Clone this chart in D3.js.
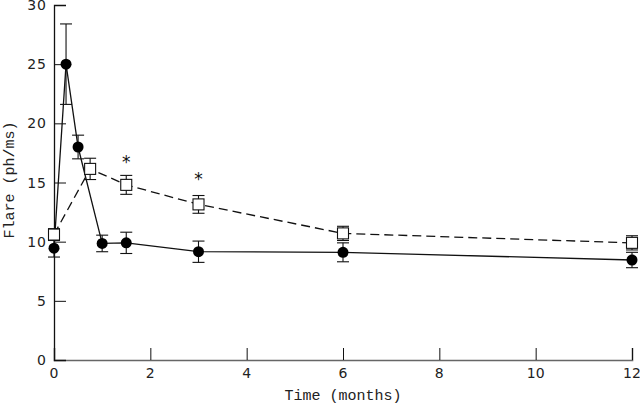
<!DOCTYPE html>
<html>
<head>
<meta charset="utf-8">
<script src="https://cdnjs.cloudflare.com/ajax/libs/d3/7.8.5/d3.min.js"></script>
<style>
  body { margin: 0; background: #fff; }
  svg { display: block; }
</style>
</head>
<body>
<script>
(function () {
    "use strict";

    // data
    var circleTimes = [0, 0.25, 0.5, 1, 1.5, 3, 6, 12];
    var circleMeans = [9.45, 25, 18, 9.85, 9.9, 9.15, 9.1, 8.45];
    var circleErrs  = [0.75, 3.4, 1.0, 0.7, 0.9, 0.9, 0.8, 0.65];

    var squareTimes = [0, 0.75, 1.5, 3, 6, 12];
    var squareMeans = [10.6, 16.15, 14.8, 13.15, 10.7, 9.9];
    var squareErrs  = [0.5, 0.9, 0.8, 0.75, 0.6, 0.6];

    var starTimes = [1.5, 3];
    var starValues = [17.1, 15.6];

    var xTicks = [0, 2, 4, 6, 8, 10, 12];
    var yTicks = [0, 5, 10, 15, 20, 25, 30];

    var width = 640, height = 406;
    var margin = {top: 5, right: 8, bottom: 46, left: 54};

    var svg = d3.select("body").append("svg")
            .attr("width", width)
            .attr("height", height);

    var x = d3.scaleLinear().domain([0, 12]).range([margin.left, width - margin.right]);
    var y = d3.scaleLinear().domain([0, 30]).range([height - margin.bottom, margin.top]);

    var tickFont = "'DejaVu Sans', Verdana, sans-serif";
    var labelFont = "'Liberation Mono', 'DejaVu Sans Mono', monospace";

    // axes: ticks point inward
    var xAxis = svg.append("g")
            .attr("transform", "translate(0," + y(0) + ")")
            .call(d3.axisTop(x).tickValues(xTicks).tickSize(12).tickFormat(""));
    xAxis.select(".domain").attr("stroke", "#666").attr("stroke-width", 1.6);
    xAxis.selectAll(".tick line").attr("stroke", "#111");

    var yAxis = svg.append("g")
            .attr("transform", "translate(" + x(0) + ",0)")
            .call(d3.axisRight(y).tickValues(yTicks).tickSize(12).tickFormat(""));
    yAxis.select(".domain").attr("stroke", "#111").attr("stroke-width", 1.3);
    yAxis.selectAll(".tick line").attr("stroke", "#111");

    // tick labels
    svg.selectAll(".xlab").data(xTicks).enter().append("text")
            .attr("x", function (d) { return x(d); })
            .attr("y", y(0) + 18)
            .attr("text-anchor", "middle")
            .attr("font-family", tickFont)
            .attr("font-size", 14)
            .attr("fill", "#222")
            .text(function (d) { return d; });

    svg.selectAll(".ylab").data(yTicks).enter().append("text")
            .attr("x", x(0) - 7)
            .attr("y", function (d) { return y(d) + 5; })
            .attr("text-anchor", "end")
            .attr("font-family", tickFont)
            .attr("font-size", 14)
            .attr("letter-spacing", 1)
            .attr("fill", "#222")
            .text(function (d) { return d; });

    // axis titles
    svg.append("text")
            .attr("x", 343)
            .attr("y", 400)
            .attr("text-anchor", "middle")
            .attr("font-family", labelFont)
            .attr("font-size", 15)
            .attr("fill", "#222")
            .text("Time (months)");

    svg.append("text")
            .attr("transform", "translate(14,180) rotate(-90)")
            .attr("text-anchor", "middle")
            .attr("font-family", labelFont)
            .attr("font-size", 15)
            .attr("fill", "#222")
            .text("Flare (ph/ms)");

    var circles = circleTimes.map(function (t, i) {
        return {t: t, m: circleMeans[i], e: circleErrs[i]};
    });
    var squares = squareTimes.map(function (t, i) {
        return {t: t, m: squareMeans[i], e: squareErrs[i]};
    });

    var line = d3.line()
            .x(function (d) { return x(d.t); })
            .y(function (d) { return y(d.m); });

    svg.append("path")
            .datum(squares)
            .attr("d", line)
            .attr("fill", "none")
            .attr("stroke", "#111")
            .attr("stroke-width", 1.3)
            .attr("stroke-dasharray", "9,5");

    svg.append("path")
            .datum(circles)
            .attr("d", line)
            .attr("fill", "none")
            .attr("stroke", "#111")
            .attr("stroke-width", 1.3);

    // error bars
    function errorBars(data) {
        var g = svg.append("g").attr("stroke", "#111").attr("stroke-width", 1.1);
        data.forEach(function (d) {
            var cx = x(d.t), cap = 6;
            g.append("line").attr("x1", cx).attr("x2", cx)
                    .attr("y1", y(d.m - d.e)).attr("y2", y(d.m + d.e));
            [d.m - d.e, d.m + d.e].forEach(function (v) {
                g.append("line").attr("x1", cx - cap).attr("x2", cx + cap)
                        .attr("y1", y(v)).attr("y2", y(v));
            });
        });
    }
    errorBars(squares);
    errorBars(circles);

    svg.selectAll(".sq").data(squares).enter().append("rect")
            .attr("x", function (d) { return x(d.t) - 5.5; })
            .attr("y", function (d) { return y(d.m) - 5.5; })
            .attr("width", 11)
            .attr("height", 11)
            .attr("fill", "#fff")
            .attr("stroke", "#111")
            .attr("stroke-width", 1.1);

    svg.selectAll(".ci").data(circles).enter().append("circle")
            .attr("cx", function (d) { return x(d.t); })
            .attr("cy", function (d) { return y(d.m); })
            .attr("r", 5.5)
            .attr("fill", "#000");

    // significance markers
    svg.selectAll(".star").data(starTimes).enter().append("text")
            .attr("x", function (d) { return x(d); })
            .attr("y", function (d, i) { return y(starValues[i]) + 10; })
            .attr("text-anchor", "middle")
            .attr("font-family", tickFont)
            .attr("font-size", 17)
            .attr("fill", "#111")
            .text("*");
})();
</script>
</body>
</html>
